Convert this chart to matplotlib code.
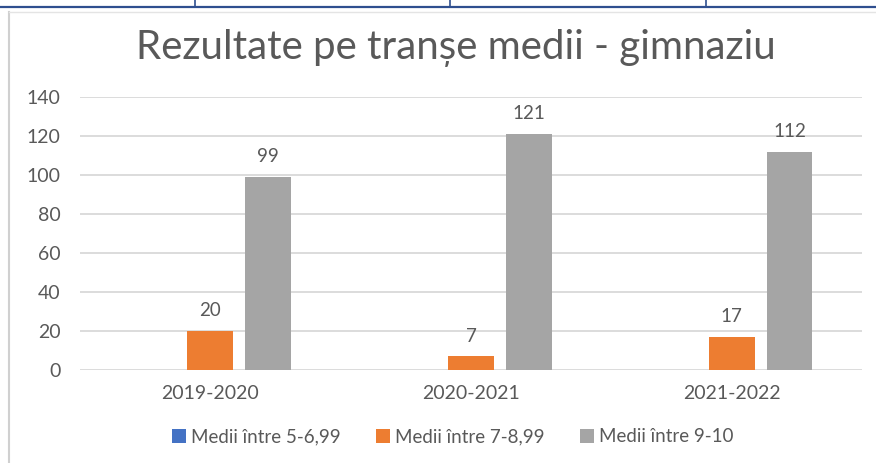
import matplotlib
matplotlib.use("Agg")
import matplotlib.pyplot as plt
from matplotlib.lines import Line2D
import numpy as np

categories = ["2019-2020", "2020-2021", "2021-2022"]
series_names = ["Medii între 5-6,99", "Medii între 7-8,99", "Medii între 9-10"]
val_5_699 = [0, 0, 0]
val_7_899 = [20, 7, 17]
val_9_10 = [99, 121, 112]
series_values = [val_5_699, val_7_899, val_9_10]
colors = ["#4472C4", "#ED7D31", "#A5A5A5"]
yticks = [0, 20, 40, 60, 80, 100, 120, 140]
title = "Rezultate pe tranșe medii - gimnaziu"

plt.rcParams['font.family'] = ['Lato', 'DejaVu Sans']
txt = "#595959"

fig = plt.figure(figsize=(8.76, 4.63), dpi=100)
W, H = 876, 463
ax = fig.add_axes([80 / W, 1 - 370 / H, 782 / W, 273 / H])

x = np.arange(len(categories))
bw = 0.176
step = 0.222
for i, (vals, c) in enumerate(zip(series_values, colors)):
    pos = x + (i - 1) * step
    ax.bar(pos, vals, width=bw, color=c, zorder=3, label=series_names[i])
    if i > 0:
        for p, v in zip(pos, vals):
            ax.annotate(str(v), (p, v), xytext=(0, 10.5), textcoords="offset points",
                        ha="center", va="baseline", fontsize=13.5, color=txt)

ax.set_xlim(-0.5, 2.5)
ax.set_ylim(0, 140)
ax.set_yticks(yticks)
ax.set_xticks(x)
ax.set_xticklabels(categories)
ax.tick_params(axis='both', length=0, labelsize=14, colors=txt)
ax.tick_params(axis='y', pad=14)
ax.tick_params(axis='x', pad=11)
ax.grid(axis='y', color="#D9D9D9", linewidth=1.3, zorder=0)
for s in ax.spines.values():
    s.set_visible(False)

fig.text(456 / W, 1 - 48 / H, title, ha="center", va="center", fontsize=29, color=txt)

leg = fig.legend(loc="center", bbox_to_anchor=(453 / W, 1 - 437 / H), ncol=3, frameon=False,
                 fontsize=13.5, labelcolor=txt, handlelength=0.75, handleheight=0.75,
                 handletextpad=0.25, columnspacing=1.9)

# frame decorations
fig.add_artist(Line2D([0, 1], [1 - 7 / H, 1 - 7 / H], color="#2F4F8F", linewidth=1.6, transform=fig.transFigure))
for xv in [195, 450, 706]:
    fig.add_artist(Line2D([xv / W, xv / W], [1 - 7 / H, 1.0], color="#2F4F8F", linewidth=1.2, transform=fig.transFigure))
fig.add_artist(Line2D([9 / W, 9 / W], [0, 1 - 12 / H], color="#D0D0D0", linewidth=1.5, transform=fig.transFigure))
fig.add_artist(Line2D([9 / W, 1], [1 - 12 / H, 1 - 12 / H], color="#E4E4E4", linewidth=1.0, transform=fig.transFigure))

fig.savefig("out.png", dpi=100)
